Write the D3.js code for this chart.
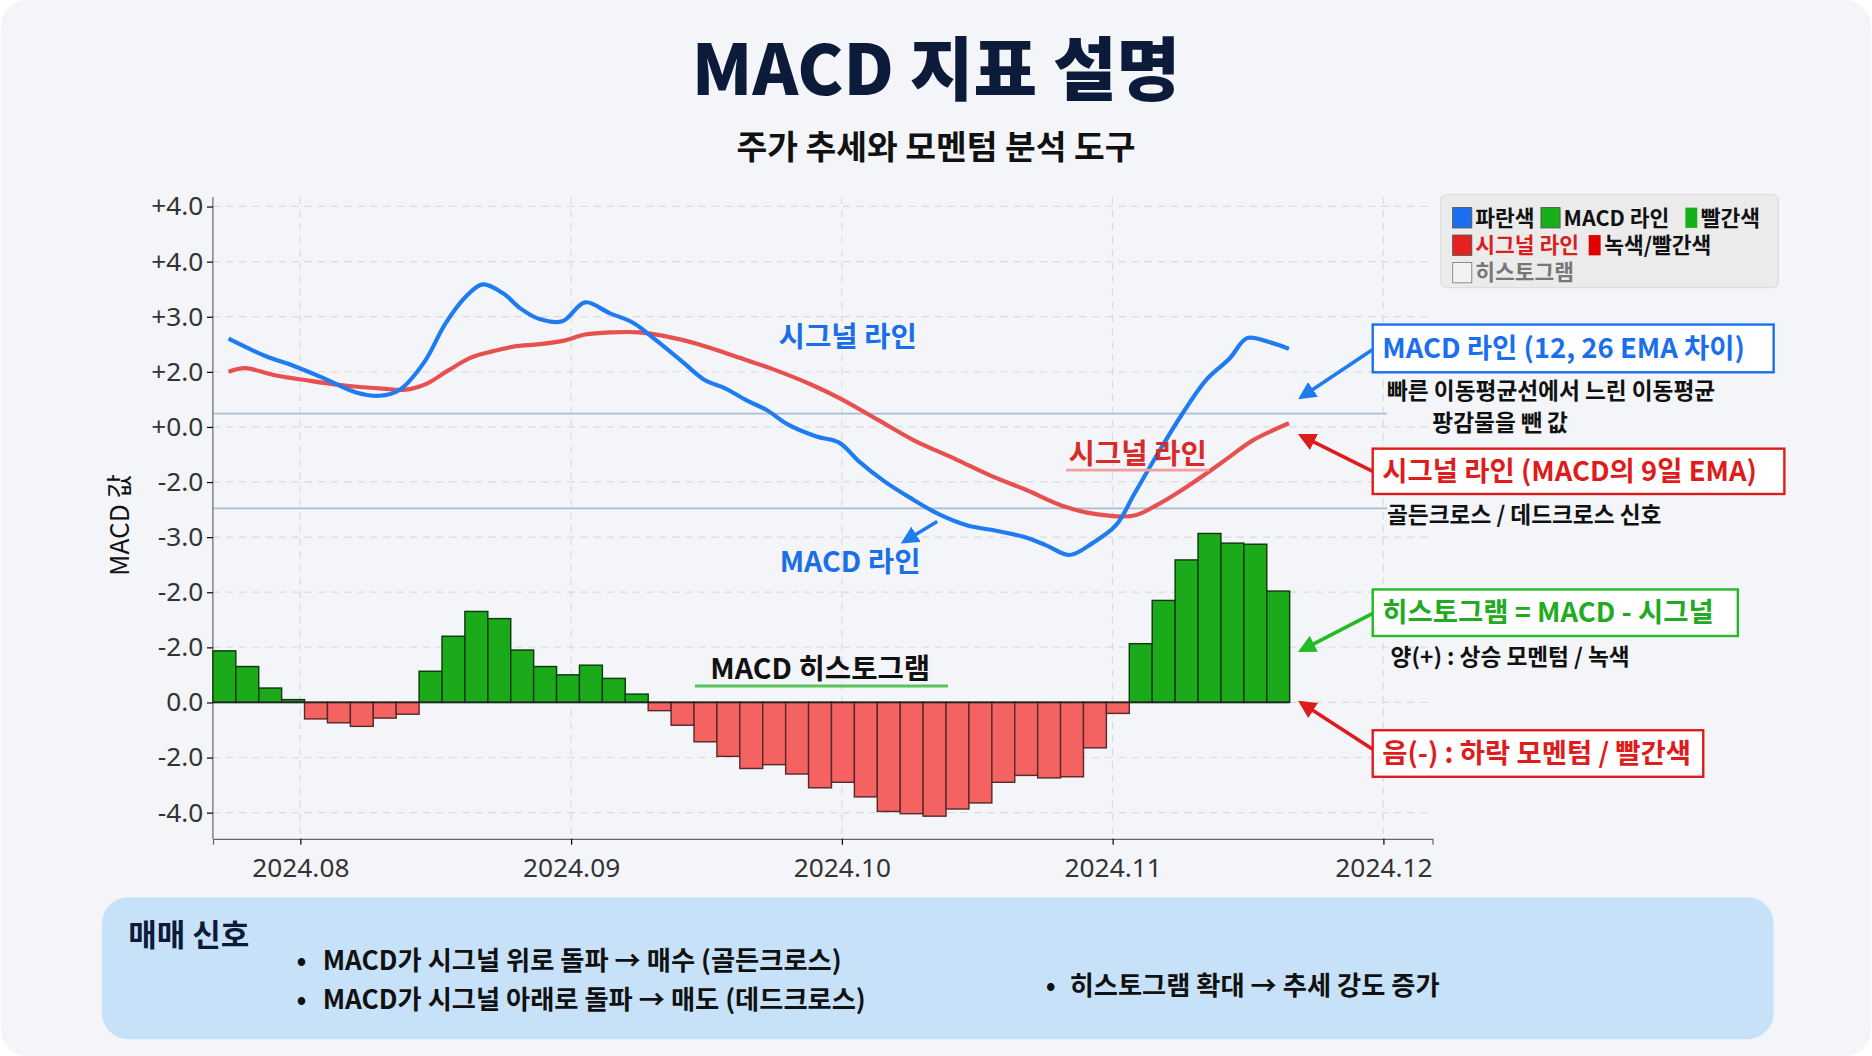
<!DOCTYPE html>
<html><head><meta charset="utf-8">
<script src="https://cdn.jsdelivr.net/npm/d3@7"></script>
<style>body{margin:0;background:#fff;font-family:"Noto Sans CJK KR","Noto Sans",sans-serif;}</style>
</head><body><svg id="c" width="1872" height="1056" viewBox="0 0 1568 885"></svg>
<script>
// ---- data ----
const histValues=[1.87,1.3,0.52,0.1,-0.6,-0.74,-0.87,-0.57,-0.43,1.13,2.4,3.3,3.04,1.9,1.3,1.0,1.35,0.87,0.3,-0.3,-0.83,-1.43,-1.96,-2.4,-2.26,-2.6,-3.1,-2.9,-3.43,-3.96,-4.04,-4.13,-3.87,-3.65,-2.9,-2.65,-2.74,-2.7,-1.65,-0.4,2.13,3.7,5.17,6.13,5.78,5.74,4.04];
const macdDays=[1.8,6.0,9.2,12.6,16.3,19.1,21.4,24.2,26.6,29.0,30.9,33.3,35.2,37.4,40.0,42.6,45.4,48.1,50.8,53.8,56.3,58.7,61.1,63.4,65.8,69.1,71.7,74.0,76.8,79.8,83.1,86.3,89.8,92.9,95.4,98.1,100.7,103.4,105.5,108.2,110.9,113.7,116.4,118.4,120.8,123.2];
const macdValues=[13.2,12.57,12.22,11.78,11.26,11.13,11.35,12.35,13.74,14.74,15.17,14.83,14.3,13.91,13.83,14.52,14.13,13.78,13.13,12.35,11.7,11.39,10.96,10.61,10.09,9.65,9.43,8.74,8.04,7.43,6.83,6.43,6.22,6.0,5.7,5.35,5.78,6.43,7.57,9.04,10.43,11.7,12.48,13.22,13.09,12.83];
const signalDays=[1.8,3.7,7.1,10.5,14.6,19.4,22.1,24.5,26.9,29.6,32.0,34.4,37.4,40.2,42.6,45.6,48.8,51.6,55.6,59.7,63.8,68.6,72.0,76.1,80.2,85.0,89.1,93.2,97.3,101.1,105.5,107.9,110.9,113.7,116.4,119.1,123.2];
const signalValues=[12.0,12.13,11.87,11.7,11.52,11.39,11.35,11.57,12.04,12.52,12.74,12.91,13.0,13.13,13.35,13.43,13.43,13.3,13.0,12.57,12.13,11.52,11.0,10.26,9.52,8.83,8.22,7.7,7.13,6.83,6.78,7.13,7.7,8.3,8.91,9.52,10.13];
const yTickValues=[-4,-2,0,2,4,6,8,10,12,14,16,18];
const yTickLabels=["-4.0","-2.0","0.0","-2.0","-2.0","-3.0","-2.0","+0.0","+2.0","+3.0","+4.0","+4.0"];
const xTickDays=[10,41,72,103,134];
const xTickLabels=["2024.08","2024.09","2024.10","2024.11","2024.12"];
const refLines=[10.48,7.04];

const svg=d3.select("#c");
const L=178,R=1200,T=165,B=703;
svg.append("rect").attr("x",0).attr("y",0).attr("width",1568).attr("height",885).attr("rx",22).attr("fill","#f3f5f8");
const y=d3.scaleLinear().domain([-4,18]).range([681,173]);
const x=d3.scaleLinear().domain([0,(R-L)/7.32]).range([L,R]);
const xb=d3.scaleBand().domain(d3.range(histValues.length)).range([L,L+19.2*histValues.length]).padding(0);

// grid
const g=svg.append("g");
g.selectAll(".hg").data(yTickValues).join("line").attr("x1",L).attr("x2",R).attr("y1",d=>y(d)).attr("y2",d=>y(d)).attr("stroke","#d8dbe0").attr("stroke-dasharray","6,5");
g.selectAll(".vg").data(xTickDays).join("line").attr("x1",d=>x(d)).attr("x2",d=>x(d)).attr("y1",T).attr("y2",B).attr("stroke","#d8dbe0").attr("stroke-dasharray","6,5");
g.selectAll(".rl").data(refLines).join("line").attr("x1",L).attr("x2",1162).attr("y1",d=>y(d)).attr("y2",d=>y(d)).attr("stroke","#a9bdd3").attr("stroke-width",1.6);

// axes
const ya=svg.append("g").attr("transform",`translate(${L},0)`).call(d3.axisLeft(y).tickValues(yTickValues).tickFormat((d,i)=>yTickLabels[i]).tickSize(5));
ya.select(".domain").attr("stroke","#666").attr("d",`M0,${T}V${B}`);
ya.selectAll("text").attr("font-size",22).attr("fill","#333").attr("font-family","Noto Sans,sans-serif");
const xa=svg.append("g").attr("transform",`translate(0,${B})`).call(d3.axisBottom(x).tickValues(xTickDays).tickFormat((d,i)=>xTickLabels[i]).tickSize(5));
xa.select(".domain").attr("stroke","#666");
xa.selectAll("text").attr("font-size",22).attr("fill","#333").attr("dy","1.1em").attr("font-family","Noto Sans,sans-serif");
svg.append("text").attr("transform","translate(108,440) rotate(-90)").attr("text-anchor","middle").attr("font-size",22).attr("fill","#111").text("MACD 값");

// bars
svg.selectAll(".bar").data(histValues).join("rect")
 .attr("x",(d,i)=>xb(i)).attr("width",xb.bandwidth())
 .attr("y",d=>y(Math.max(0,d))).attr("height",d=>Math.abs(y(d)-y(0)))
 .attr("fill",d=>d>=0?"#1aaa1a":"#f46262").attr("stroke",d=>d>=0?"#0e3a0e":"#5a2a2a").attr("stroke-width",1.2);
svg.append("line").attr("x1",L).attr("x2",1080).attr("y1",y(0)).attr("y2",y(0)).attr("stroke","#222").attr("stroke-width",1.5);

// lines
const line=d3.line().x(d=>x(d[0])).y(d=>y(d[1])).curve(d3.curveCatmullRom);
svg.append("path").attr("d",line(d3.zip(signalDays,signalValues))).attr("fill","none").attr("stroke","#e84f4f").attr("stroke-width",3.5);
svg.append("path").attr("d",line(d3.zip(macdDays,macdValues))).attr("fill","none").attr("stroke","#1e7cf0").attr("stroke-width",3.5);

// defs arrows
const defs=svg.append("defs");
[["b","#1e7cf0"],["r","#e01b1b"],["g","#22bb22"]].forEach(([n,c])=>{
 defs.append("marker").attr("id","m"+n).attr("viewBox","0 0 10 10").attr("refX",8).attr("refY",5).attr("markerWidth",5).attr("markerHeight",5).attr("orient","auto")
 .append("path").attr("d","M0,0L10,5L0,10z").attr("fill",c);});
function arrow(x1,y1,x2,y2,n,c){svg.append("line").attr("x1",x1).attr("y1",y1).attr("x2",x2).attr("y2",y2).attr("stroke",c).attr("stroke-width",3).attr("marker-end",`url(#m${n})`);}
function txt(xx,yy,t,s,c,a="start",w="bold"){return svg.append("text").attr("x",xx).attr("y",yy).attr("font-size",s).attr("fill",c).attr("font-weight",w).attr("text-anchor",a).text(t);}

// titles
txt(784,80,"MACD 지표 설명",58,"#0d1b3a","middle","900");
txt(784,133,"주가 추세와 모멘텀 분석 도구",28,"#111","middle");

// chart annotations
txt(710,291,"시그널 라인",24,"#1a6fe6","middle");
txt(712,479,"MACD 라인",24,"#1a6fe6","middle");
arrow(785,437,757,454,"b","#1e7cf0");
txt(953,389,"시그널 라인",24,"#d92a2a","middle");
svg.append("line").attr("x1",893).attr("x2",1013).attr("y1",394).attr("y2",394).attr("stroke","#f0a0a0").attr("stroke-width",2.5);
txt(687,569,"MACD 히스토그램",24,"#111","middle");
svg.append("line").attr("x1",582).attr("x2",794).attr("y1",575).attr("y2",575).attr("stroke","#5ac45a").attr("stroke-width",2.5);

// legend
svg.append("rect").attr("x",1207).attr("y",163).attr("width",283).attr("height",78).attr("rx",5).attr("fill","#ebebeb").attr("stroke","#ddd");
function sw(xx,yy,c,w=16,st="#555"){svg.append("rect").attr("x",xx).attr("y",yy).attr("width",w).attr("height",17).attr("fill",c).attr("stroke",st).attr("stroke-width",0.8);}
sw(1217,174,"#1a6ff0");txt(1236,189,"파란색",18,"#111");
sw(1291,174,"#18b018");txt(1310,189,"MACD 라인",18,"#111");
sw(1412,174,"#18b018",10,"none");txt(1425,189,"빨간색",18,"#111");
sw(1217,197,"#e82020");txt(1236,212,"시그널 라인",18,"#d81e1e");
sw(1331,197,"#e00000",10,"none");txt(1344,212,"녹색/빨간색",18,"#111");
sw(1217,220,"#f2f2f2","16","#888");txt(1236,235,"히스토그램",18,"#777");

// side boxes
function box(x1,y1,w,h,c,t,tc){svg.append("rect").attr("x",x1).attr("y",y1).attr("width",w).attr("height",h).attr("fill","#fff").attr("stroke",c).attr("stroke-width",2);
 txt(x1+8,y1+h/2+8,t,23,tc);}
box(1150,272,336,40,"#1a6ff0","MACD 라인 (12, 26 EMA 차이)","#1a6ff0");
arrow(1150,293,1090,333,"b","#1e7cf0");
txt(1162,334,"빠른 이동평균선에서 느린 이동평균",19,"#111");
txt(1200,361,"팡감물을 뺀 값",19,"#111");
box(1150,376,345,38,"#e01b1b","시그널 라인 (MACD의 9일 EMA)","#e01b1b");
arrow(1150,395,1090,365,"r","#e01b1b");
txt(1162,438,"골든크로스 / 데드크로스 신호",19,"#111");
box(1150,494,306,39,"#22bb22","히스토그램 = MACD - 시그널","#22aa22");
arrow(1150,514,1090,545,"g","#22bb22");
txt(1165,557,"양(+) : 상승 모멘텀 / 녹색",19,"#111");
box(1150,612,277,39,"#e01b1b","음(-) : 하락 모멘텀 / 빨간색","#e01b1b");
arrow(1150,628,1090,589,"r","#e01b1b");

// bottom panel
svg.append("rect").attr("x",85).attr("y",752).attr("width",1401).attr("height",119).attr("rx",22).attr("fill","#c7e2f8");
txt(107,793,"매매 신호",26,"#0d1b3a");
txt(248,813,"•",22,"#111");txt(270,813,"MACD가 시그널 위로 돌파 → 매수 (골든크로스)",22,"#111");
txt(248,846,"•",22,"#111");txt(270,846,"MACD가 시그널 아래로 돌파 → 매도 (데드크로스)",22,"#111");
txt(876,834,"•",22,"#111");txt(896,834,"히스토그램 확대 → 추세 강도 증가",22,"#111");
</script></body></html>
